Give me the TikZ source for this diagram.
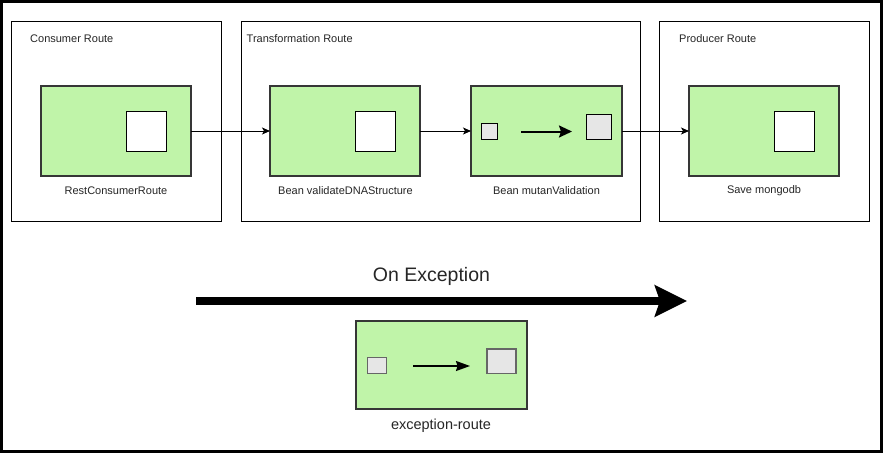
\documentclass[tikz,border=0pt]{standalone}
\usepackage{fontspec}
\setmainfont{Liberation Sans}
\usetikzlibrary{arrows.meta}
\definecolor{beanfill}{HTML}{C0F4A9}
\definecolor{beanline}{HTML}{363636}
\definecolor{sqgray}{HTML}{E6E6E6}
\definecolor{txt}{HTML}{262626}
\tikzset{
  route/.style={draw=black, line width=1pt, fill=white, anchor=north west, inner sep=0pt, outer sep=0pt},
  bean/.style={draw=beanline, line width=2pt, fill=beanfill, anchor=north west, inner sep=0pt, outer sep=0pt, minimum width=150pt, minimum height=90pt},
  wsq/.style={draw=black, line width=1pt, fill=white, anchor=north west, inner sep=0pt, outer sep=0pt, minimum width=40pt, minimum height=40pt},
  gsq/.style={draw=black, line width=1pt, fill=sqgray, anchor=north west, inner sep=0pt, outer sep=0pt},
  gsqe/.style={draw=black!60, line width=1.5pt, fill=sqgray, anchor=north west, inner sep=0pt, outer sep=0pt},
  title/.style={anchor=west, inner sep=0pt, text=txt, font=\fontsize{11}{13}\selectfont},
  lbl/.style={anchor=center, inner sep=0pt, text=txt, font=\fontsize{11}{13}\selectfont},
  conn/.style={line width=1pt, -{Stealth[length=8pt,width=7pt,inset=2pt]}},
}
\begin{document}
\begin{tikzpicture}[x=1pt,y=-1pt]
\useasboundingbox (0,0) rectangle (883,453);
\fill[white] (0,0) rectangle (883,453);
\draw[line width=3pt] (1.5,1.5) rectangle (881.5,451.5);

% containers
\node[route, minimum width=210pt, minimum height=200pt] (cons) at (11,21) {};
\node[route, minimum width=399pt, minimum height=200pt] (trans) at (241,21) {};
\node[route, minimum width=210pt, minimum height=200pt] (prod) at (659,21) {};
\node[title] (tc) at (30,39) {Consumer Route};
\node[title] (tt) at (246.5,39) {Transformation Route};
\node[title] (tp) at (679,39) {Producer Route};

% beans
\node[bean] (b1) at (41,86) {};
\node[wsq] (s1) at (126,111) {};
\node[lbl] (l1) at (116,191) {RestConsumerRoute};

\node[bean] (b2) at (270,86) {};
\node[wsq] (s2) at (355,111) {};
\node[lbl] (l2) at (345.5,191) {Bean validateDNAStructure};

\node[bean, minimum width=151pt] (b3) at (471,86) {};
\node[gsq, minimum width=16pt, minimum height=16pt] (s3a) at (481.5,123.5) {};
\node[gsq, minimum width=25.5pt, minimum height=25pt] (s3b) at (586,114) {};
\coordinate (a3s) at (521,131.5);
\coordinate (a3e) at (572,131.5);
\draw[line width=2pt, -{Stealth[length=13pt,width=12pt,inset=2pt]}] (a3s) -- (a3e);
\node[lbl] (l3) at (546.5,190.5) {Bean mutanValidation};

\node[bean] (b4) at (689,86) {};
\node[wsq] (s4) at (774.5,111) {};
\node[lbl] (l4) at (764,191) {Save mongodb};

% connectors
\draw[conn] (b1.east) -- (b2.west);
\draw[conn] (b2.east) -- (b3.west);
\draw[conn] (b3.east) -- (b4.west);

% exception
\coordinate (ex1) at (196,301);
\coordinate (ex2) at (687,301);
\draw[line width=8pt, -{Stealth[length=32pt,width=31pt,inset=5pt]}] (ex1) -- (ex2);
\node[anchor=center, inner sep=0pt, text=txt, font=\fontsize{19.5}{22}\selectfont] (onex) at (431.5,276) {On Exception};

\node[bean, minimum width=171pt, minimum height=88pt] (be) at (356,321) {};
\node[gsqe, minimum width=19pt, minimum height=16pt] (sea) at (367.5,357.5) {};
\node[gsqe, minimum width=29pt, minimum height=24.5pt] (seb) at (487,349) {};
\coordinate (aes) at (413,366);
\coordinate (aee) at (470,366);
\draw[line width=1.5pt, -{Stealth[length=14pt,width=10pt,inset=1.5pt]}] (aes) -- (aee);
\node[anchor=center, inner sep=0pt, text=txt, font=\fontsize{14.5}{17}\selectfont] (le) at (441,426) {exception-route};
\end{tikzpicture}
\end{document}
